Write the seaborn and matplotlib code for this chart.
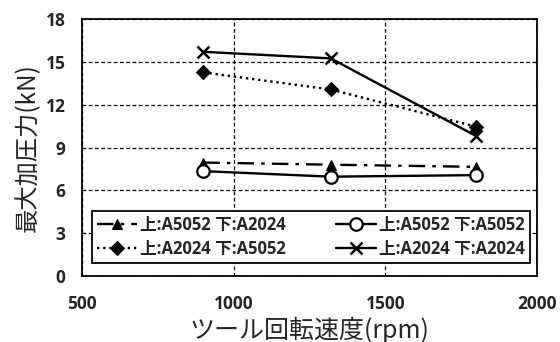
import matplotlib
matplotlib.use("Agg")
import matplotlib.pyplot as plt
import seaborn as sns
import pandas as pd

# Tool rotation speed (rpm) and peak pressing force (kN) per material pair
speed = [900, 1320, 1800]
labels = ["上:A5052 下:A2024", "上:A2024 下:A5052", "上:A5052 下:A5052", "上:A2024 下:A2024"]
force_5052_2024 = [7.95, 7.8, 7.65]
force_2024_5052 = [14.27, 13.07, 10.46]
force_5052_5052 = [7.35, 6.96, 7.07]
force_2024_2024 = [15.71, 15.25, 9.8]

x_ticks = [500, 1000, 1500, 2000]
y_ticks = [0, 3, 6, 9, 12, 15, 18]

sns.set_theme(style="white")
plt.rcParams["font.family"] = ["Noto Sans CJK JP", "DejaVu Sans"]
latin = ["Open Sans", "Noto Sans CJK JP", "DejaVu Sans"]

fig = plt.figure(figsize=(5.6, 3.42), dpi=100)
ax = fig.add_axes([0.1464, 0.193, 0.8126, 0.751])

# order chosen so the two-column legend reads row by row
styles = [
    dict(marker="^", linestyle=(0, (7, 3, 1.5, 3)), markersize=7, markerfacecolor="black"),
    dict(marker="D", linestyle=(0, (1, 1.6)), markersize=7, markerfacecolor="black"),
    dict(marker="o", linestyle="-", markersize=9, markerfacecolor="white", markeredgewidth=1.6),
    dict(marker="x", linestyle="-", markersize=9, markeredgewidth=1.8),
]
series = [force_5052_2024, force_2024_5052, force_5052_5052, force_2024_2024]

for lab, vals, st in zip(labels, series, styles):
    df = pd.DataFrame({"speed": speed, "force": vals})
    sns.lineplot(data=df, x="speed", y="force", ax=ax, color="black",
                 linewidth=1.7, markeredgecolor="black", label=lab, **st)

ax.set_xlim(500, 2000)
ax.set_ylim(0, 18)
tick_font = dict(family=latin, fontweight="bold", fontsize=12.5)
ax.set_xticks(x_ticks, labels=[str(v) for v in x_ticks], **tick_font)
ax.set_yticks(y_ticks, labels=[str(v) for v in y_ticks], **tick_font)
ax.grid(True, color="black", linestyle=(0, (3, 2)), linewidth=0.9)
for s in ax.spines.values():
    s.set_color("black")
    s.set_linewidth(1.3)
ax.tick_params(axis="x", length=0, pad=14)
ax.tick_params(axis="y", length=0, pad=12)

ax.set_xlabel("ツール回転速度(rpm)", fontsize=18, labelpad=2)
ax.set_ylabel("最大加圧力(kN)", fontsize=17.5, labelpad=3)

leg = ax.legend(loc="lower left", bbox_to_anchor=(0.022, 0.05, 0.963, 0.2),
                mode="expand", ncol=2, frameon=True, fancybox=False,
                edgecolor="black", framealpha=1, handlelength=2.4,
                handletextpad=0.2, borderpad=0.3, labelspacing=0.35,
                borderaxespad=0, columnspacing=1.2,
                prop={"family": latin, "weight": "bold", "size": 12})
leg.get_frame().set_linewidth(1.3)

fig.savefig("out.png", dpi=100)
